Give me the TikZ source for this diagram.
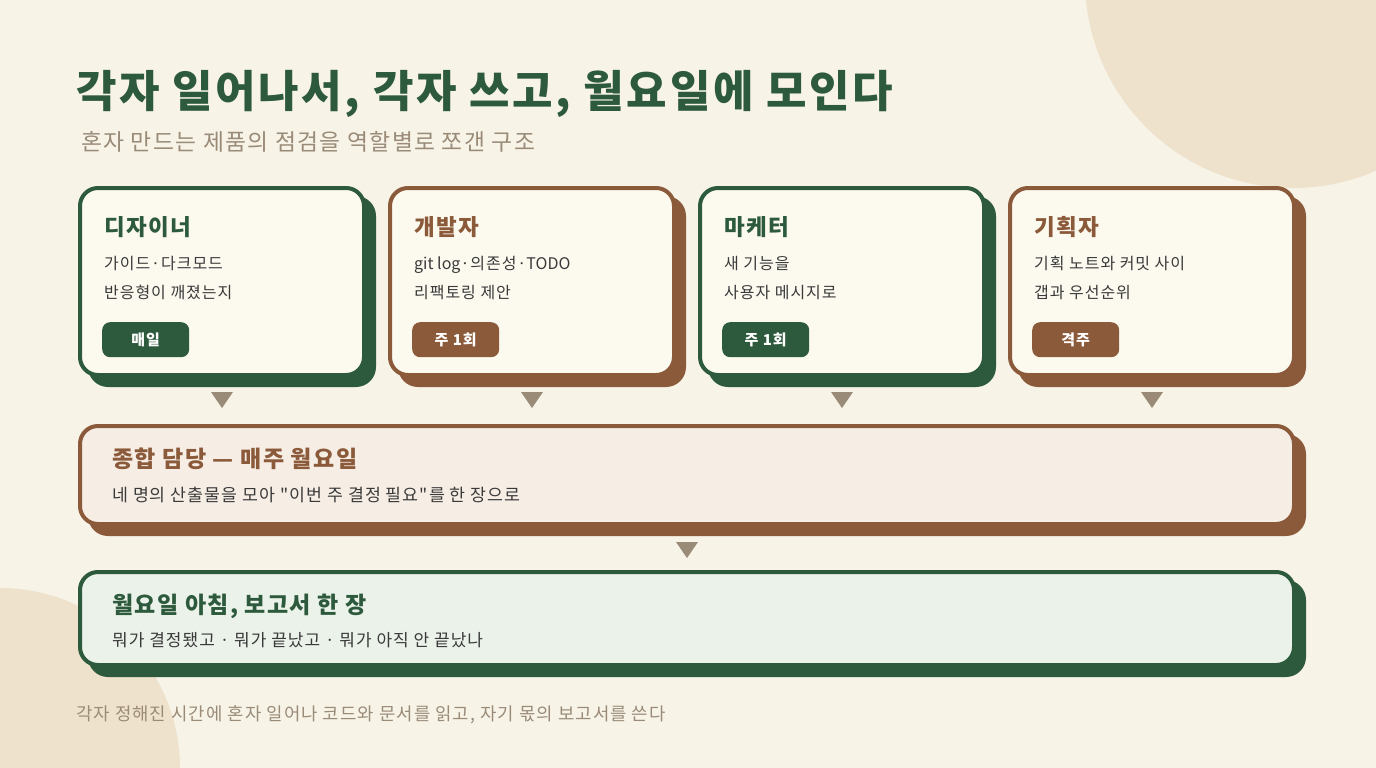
\documentclass[tikz,border=0pt]{standalone}
\usepackage{fontspec}
\newfontfamily\kr{Noto Sans CJK KR}[LetterSpace=6]
\newfontfamily\krn{Noto Sans CJK KR}
\usetikzlibrary{positioning,shadows}

\definecolor{paper}{HTML}{F7F3E7}
\definecolor{blob}{HTML}{EFE2CC}
\definecolor{pine}{HTML}{2D5A3C}
\definecolor{bark}{HTML}{8B5A3A}
\definecolor{cream}{HTML}{FCF9EF}
\definecolor{blush}{HTML}{F6EDE4}
\definecolor{mint}{HTML}{EBF2EA}
\definecolor{ink}{HTML}{3A3A3A}
\definecolor{mute}{HTML}{9A8B78}

\tikzset{
    role/.style={draw=#1, line width=4pt, fill=cream, rounded corners=18pt,
        minimum width=284pt, minimum height=187pt, inner sep=0pt, outer sep=0pt,
        drop shadow={shadow xshift=10pt, shadow yshift=-10pt, opacity=1,
            fill=#1, draw=#1, line width=4pt}},
    band/.style 2 args={role=#1, fill=#2, minimum width=1214pt},
    head/.style={anchor=base west, inner sep=0pt, text=#1,
        font=\kr\bfseries\fontsize{22.5}{26}\selectfont},
    note/.style={anchor=base west, inner sep=0pt, text=ink, align=left,
        font=\kr\fontsize{16}{28.5}\selectfont},
    tag/.style={fill=#1, rounded corners=8pt, minimum width=87pt, minimum height=35pt,
        inner sep=0pt, anchor=north west, text=white,
        font=\kr\bfseries\fontsize{15}{18}\selectfont},
    tip/.style={fill=mute}
}

\begin{document}
\begin{tikzpicture}[x=1pt, y=-1pt]
    \useasboundingbox (0,0) rectangle (1376,768);
    \clip (0,0) rectangle (1376,768);
    \fill[paper] (0,0) rectangle (1376,768);
    \fill[blob] (1293,-20) circle (208pt);
    \fill[blob] (0,768) circle (180pt);

    % heading
    \node[anchor=base west, inner sep=0pt, text=pine, font=\kr\bfseries\fontsize{44}{52}\selectfont]
        (title) at (76,107) {각자 일어나서, 각자 쓰고, 월요일에 모인다};
    \node[anchor=base west, inner sep=0pt, text=mute, font=\kr\fontsize{22.8}{26}\selectfont]
        (sub) at (81,150) {혼자 만드는 제품의 점검을 역할별로 쪼갠 구조};

    % four roles
    \node[role=pine] (d) at (222,281.5) {};
    \node[role=bark, right=26pt of d] (v) {};
    \node[role=pine, right=26pt of v] (m) {};
    \node[role=bark, right=26pt of m] (p) {};

    \node[head=pine] at ([xshift=24pt,yshift=-47pt]d.north west) {디자이너};
    \node[note] at ([xshift=24pt,yshift=-110pt]d.north west) {가이드·다크모드\\반응형이 깨졌는지};
    \node[tag=pine] at ([xshift=22pt,yshift=-134pt]d.north west) {매일};

    \node[head=bark] at ([xshift=24pt,yshift=-47pt]v.north west) {개발자};
    \node[note] at ([xshift=24pt,yshift=-110pt]v.north west) {{\krn git log}·의존성·{\krn TODO}\\리팩토링 제안};
    \node[tag=bark] at ([xshift=22pt,yshift=-134pt]v.north west) {주 1회};

    \node[head=pine] at ([xshift=24pt,yshift=-47pt]m.north west) {마케터};
    \node[note] at ([xshift=24pt,yshift=-110pt]m.north west) {새 기능을\\사용자 메시지로};
    \node[tag=pine] at ([xshift=22pt,yshift=-134pt]m.north west) {주 1회};

    \node[head=bark] at ([xshift=24pt,yshift=-47pt]p.north west) {기획자};
    \node[note] at ([xshift=24pt,yshift=-110pt]p.north west) {기획 노트와 커밋 사이\\갭과 우선순위};
    \node[tag=bark] at ([xshift=22pt,yshift=-134pt]p.north west) {격주};

    % merge and report
    \node[band={bark}{blush}, minimum height=98pt] (s) at (687,475) {};
    \node[head=bark, font=\kr\bfseries\fontsize{23}{27}\selectfont]
        at ([xshift=32pt,yshift=-41.5pt]s.north west) {종합 담당 — 매주 월요일};
    \node[note, font=\kr\fontsize{17.3}{20}\selectfont]
        at ([xshift=32pt,yshift=-75pt]s.north west) {네 명의 산출물을 모아 "이번 주 결정 필요"를 한 장으로};

    \node[band={pine}{mint}, minimum height=93pt] (r) at (687,618.5) {};
    \node[head=pine, font=\kr\bfseries\fontsize{23}{27}\selectfont]
        at ([xshift=32pt,yshift=-41.5pt]r.north west) {월요일 아침, 보고서 한 장};
    \node[note, font=\kr\fontsize{17}{20}\selectfont]
        at ([xshift=32pt,yshift=-74pt]r.north west) {뭐가 결정됐고 · 뭐가 끝났고 · 뭐가 아직 안 끝났나};

    % down markers
    \foreach \n in {d,v,m,p}
        \fill[tip] ([yshift=-17pt]\n.south) ++(-11pt,0pt) -- ++(22pt,0pt) -- ++(-11pt,-16pt) -- cycle;
    \fill[tip] ([yshift=-18pt]s.south) ++(-11pt,0pt) -- ++(22pt,0pt) -- ++(-11pt,-16pt) -- cycle;

    \node[anchor=base west, inner sep=0pt, text=mute, font=\kr\fontsize{17.8}{20}\selectfont]
        (foot) at (76,720) {각자 정해진 시간에 혼자 일어나 코드와 문서를 읽고, 자기 몫의 보고서를 쓴다};
\end{tikzpicture}
\end{document}
